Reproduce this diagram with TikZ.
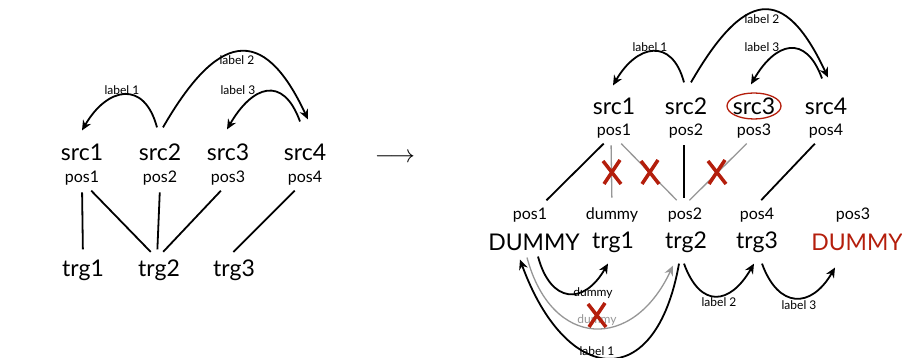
\documentclass[tikz,border=0pt]{standalone}
\usepackage{fontspec}
\setmainfont{Lato}
\usetikzlibrary{arrows.meta}
\definecolor{xred}{RGB}{180,30,12}
\definecolor{xgray}{RGB}{150,150,150}

\begin{document}
\begin{tikzpicture}[x=1pt,y=1pt,
  wrd/.style={inner sep=1pt,font=\fontsize{23}{26}\selectfont},
  psn/.style={inner sep=1pt,font=\fontsize{16}{18}\selectfont},
  lbl/.style={inner sep=1pt,font=\fontsize{12}{14}\selectfont},
  lnk/.style={line width=1.8pt,shorten <=6pt,shorten >=9pt},
  bow/.style={line width=1.8pt,-{Stealth[length=10pt,width=9pt]}},
  nope/.pic={\draw[xred,line width=3.5pt] (-8,-12)--(8,12) (-9,11)--(9,-12);}]
  \useasboundingbox (0,0) rectangle (902,358);
  % left: source and target words
  \foreach\x[count=\i] in {82,160,228,305}{
    \node[wrd] (ls\i) at (\x,206) {src\i};
    \node[psn] (lp\i) at (\x,180) {pos\i};}
  \foreach\x[count=\i] in {83,159,234}
    \node[wrd] (lt\i) at (\x,88) {trg\i};
  \draw[lnk] (lp1.south) -- (lt1.north);
  \draw[lnk] ([xshift=5pt]lp1.south) -- ([xshift=-2pt]lt2.north);
  \draw[lnk] (lp2.south) -- ([xshift=-2pt]lt2.north);
  \draw[lnk] ([xshift=-3pt]lp3.south) -- ([xshift=-2pt]lt2.north);
  \draw[lnk] ([xshift=-6pt]lp4.south) -- ([xshift=-7pt]lt3.north);
  \draw[bow] ([xshift=-3pt,yshift=15pt]ls2.north) to[out=105,in=60,looseness=1.7] ([yshift=12pt]ls1.north);
  \draw[bow] ([xshift=3pt,yshift=15pt]ls2.north) to[out=60,in=115,looseness=1.9] ([xshift=3pt,yshift=23pt]ls4.north);
  \draw[bow] ([xshift=-5pt,yshift=21pt]ls4.north) to[out=110,in=60,looseness=1.75] ([xshift=-1pt,yshift=13pt]ls3.north);
  \node[lbl] (ll1) at (122,268) {label 1};
  \node[lbl] (ll2) at (237,298) {label 2};
  \node[lbl] (ll3) at (238,268) {label 3};
  \node[wrd] (arr) at (395,200) {$\longrightarrow$};
  % right: source words
  \foreach\x[count=\i] in {614,686,754,826}{
    \node[wrd] (rs\i) at (\x,252) {src\i};
    \node[psn] (rp\i) at (\x,227) {pos\i};}
  \draw[xred,line width=1.3pt] (rs3) ellipse (27 and 13);
  \draw[bow] ([xshift=-2pt,yshift=14pt]rs2.north) to[out=105,in=60,looseness=1.7] ([xshift=-1pt,yshift=11pt]rs1.north);
  \draw[bow] ([xshift=5pt,yshift=14pt]rs2.north) to[out=60,in=115,looseness=1.96] ([xshift=2pt,yshift=19pt]rs4.north);
  \draw[bow] ([xshift=-4pt,yshift=18pt]rs4.north) to[out=110,in=60,looseness=1.74] ([xshift=-3pt,yshift=12pt]rs3.north);
  \node[lbl] (rl1) at (650,311) {label 1};
  \node[lbl] (rl2) at (762,339) {label 2};
  \node[lbl] (rl3) at (762,311) {label 3};
  % right: target words
  \foreach\x/\t[count=\i] in {530/pos1,612/dummy,685/pos2,757/pos4,853/pos3}
    \node[psn] (rq\i) at (\x,143) {\t};
  \node[wrd] (rd) at (534,116) {DUMMY};
  \foreach\x[count=\i] in {613,686,757}
    \node[wrd] (rt\i) at (\x,116) {trg\i};
  \node[wrd,text=xred] (rr) at (857,116) {DUMMY};
  \draw[lnk] ([xshift=-6pt]rp1.south) -- ([xshift=10pt]rq1.north);
  \draw[lnk,xgray,line width=1.3pt] ([xshift=-3pt]rp1.south) -- (rq2.north);
  \draw[lnk,xgray,line width=1.3pt] ([xshift=3pt]rp1.south) -- ([xshift=-2pt]rq3.north);
  \draw[lnk] ([xshift=-2pt]rp2.south) -- ([xshift=-1pt]rq3.north);
  \draw[lnk,xgray,line width=1.3pt] ([xshift=-3pt]rp3.south) -- ([xshift=-2pt]rq3.north);
  \draw[lnk] ([xshift=-7pt]rp4.south) -- ([xshift=-2pt]rq4.north);
  \pic at (612,186) {nope};
  \pic at (650,186) {nope};
  \pic at (717,186) {nope};
  \draw[bow] ([xshift=4pt,yshift=-5pt]rd.south) to[out=-75,in=-120,looseness=1.77] ([xshift=-5pt,yshift=-10pt]rt1.south);
  \draw[bow,xgray,line width=1.3pt] ([xshift=-7pt,yshift=-6pt]rd.south) to[out=-75,in=-115,looseness=1.66] ([xshift=-13pt,yshift=-12pt]rt2.south);
  \draw[bow] ([xshift=-7pt,yshift=-10pt]rt2.south) to[out=-100,in=-70,looseness=2.15] ([xshift=-14pt,yshift=-8pt]rd.south);
  \draw[bow] ([xshift=-2pt,yshift=-10pt]rt2.south) to[out=-70,in=-120,looseness=1.76] ([xshift=-3pt,yshift=-10pt]rt3.south);
  \draw[bow] ([xshift=5pt,yshift=-10pt]rt3.south) to[out=-70,in=-120,looseness=1.68] ([xshift=-22pt,yshift=-16pt]rr.south);
  \node[lbl] (ql0) at (593,65) {dummy};
  \node[lbl,text=xgray] (qlx) at (597,38) {dummy};
  \pic at (597,43) {nope};
  \node[lbl] (ql1) at (597,7) {label 1};
  \node[lbl] (ql2) at (719,56) {label 2};
  \node[lbl] (ql3) at (799,53) {label 3};
\end{tikzpicture}
\end{document}
